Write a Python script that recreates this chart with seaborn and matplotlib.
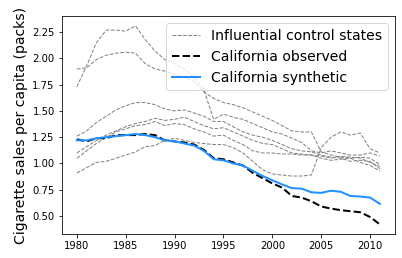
import matplotlib
matplotlib.use('Agg')
import matplotlib.pyplot as plt
import seaborn as sns

years = list(range(1980, 2012))

# control states with non-zero weight
ctrl_a = [1.90, 1.91, 1.99, 2.03, 2.05, 2.06, 2.05, 1.95, 1.90, 1.88, 1.85, 1.82, 1.78, 1.68, 1.62, 1.58,
          1.56, 1.53, 1.49, 1.45, 1.41, 1.36, 1.31, 1.30, 1.30, 1.11, 1.08, 1.06, 1.05, 1.06, 1.05, 0.99]
ctrl_b = [1.73, 1.93, 2.15, 2.27, 2.27, 2.26, 2.31, 2.18, 2.07, 1.99, 1.95, 1.90, 1.82, 1.70, 1.42, 1.47,
          1.44, 1.42, 1.38, 1.34, 1.30, 1.28, 1.24, 1.20, 1.12, 1.10, 1.12, 1.10, 1.08, 1.08, 1.10, 1.07]
ctrl_c = [1.26, 1.31, 1.39, 1.45, 1.51, 1.55, 1.58, 1.58, 1.56, 1.52, 1.50, 1.51, 1.48, 1.45, 1.40, 1.40,
          1.35, 1.30, 1.27, 1.25, 1.22, 1.18, 1.14, 1.12, 1.11, 1.08, 1.06, 1.05, 1.02, 1.03, 1.02, 0.95]
ctrl_d = [1.10, 1.16, 1.22, 1.27, 1.31, 1.35, 1.38, 1.40, 1.43, 1.41, 1.42, 1.44, 1.40, 1.36, 1.33, 1.34,
          1.30, 1.26, 1.22, 1.19, 1.18, 1.14, 1.10, 1.09, 1.08, 1.07, 1.05, 1.07, 1.06, 1.05, 1.01, 0.97]
ctrl_e = [1.05, 1.12, 1.19, 1.25, 1.30, 1.33, 1.36, 1.37, 1.40, 1.36, 1.38, 1.37, 1.33, 1.30, 1.26, 1.27,
          1.22, 1.18, 1.12, 1.10, 1.10, 1.09, 1.09, 1.08, 1.08, 1.05, 1.03, 1.04, 1.05, 1.01, 0.98, 0.93]
ctrl_f = [0.91, 0.96, 1.01, 1.02, 1.05, 1.08, 1.11, 1.16, 1.17, 1.22, 1.24, 1.22, 1.20, 1.19, 1.18, 1.18,
          1.15, 1.10, 1.02, 0.94, 0.90, 0.89, 0.88, 0.88, 0.89, 1.15, 1.25, 1.30, 1.27, 1.29, 1.14, 1.10]
controls = [ctrl_a, ctrl_b, ctrl_c, ctrl_d, ctrl_e, ctrl_f]

cal_observed = [1.23, 1.21, 1.24, 1.24, 1.27, 1.27, 1.27, 1.28, 1.27, 1.22, 1.21, 1.20, 1.18, 1.13, 1.05, 1.04,
                1.01, 0.98, 0.91, 0.86, 0.81, 0.77, 0.69, 0.675, 0.64, 0.59, 0.57, 0.555, 0.545, 0.535, 0.49, 0.42]
cal_synthetic = [1.22, 1.22, 1.24, 1.25, 1.26, 1.27, 1.28, 1.27, 1.25, 1.22, 1.21, 1.19, 1.17, 1.12, 1.04, 1.03,
                 1.00, 0.98, 0.93, 0.88, 0.84, 0.80, 0.765, 0.76, 0.725, 0.72, 0.74, 0.73, 0.69, 0.685, 0.675, 0.615]

fig = plt.figure(figsize=(402 / 72, 258 / 72), dpi=72)
ax = fig.add_axes([0.1535, 0.092, 0.829, 0.846])

# grey control lines, only first one labelled
for i, vals in enumerate(controls):
    sns.lineplot(x=years, y=vals, ax=ax, color='grey', linestyle='--', linewidth=1,
                 label='Influential control states' if i == 0 else None)

sns.lineplot(x=years, y=cal_observed, ax=ax, color='black', linestyle='--', linewidth=2,
             label='California observed')
sns.lineplot(x=years, y=cal_synthetic, ax=ax, color='#1e90ff', linewidth=2,
             label='California synthetic')

ax.set_xticks([1980, 1985, 1990, 1995, 2000, 2005, 2010])
ax.set_yticks([0.5, 0.75, 1.0, 1.25, 1.5, 1.75, 2.0, 2.25])
ax.set_yticklabels([f'{t:.2f}' for t in ax.get_yticks()])
ax.set_xlabel('')
ax.set_ylabel('Cigarette sales per capita (packs)', fontsize=14)
ax.legend(loc='upper right', fontsize=14)

fig.savefig('out.png', dpi=72)
